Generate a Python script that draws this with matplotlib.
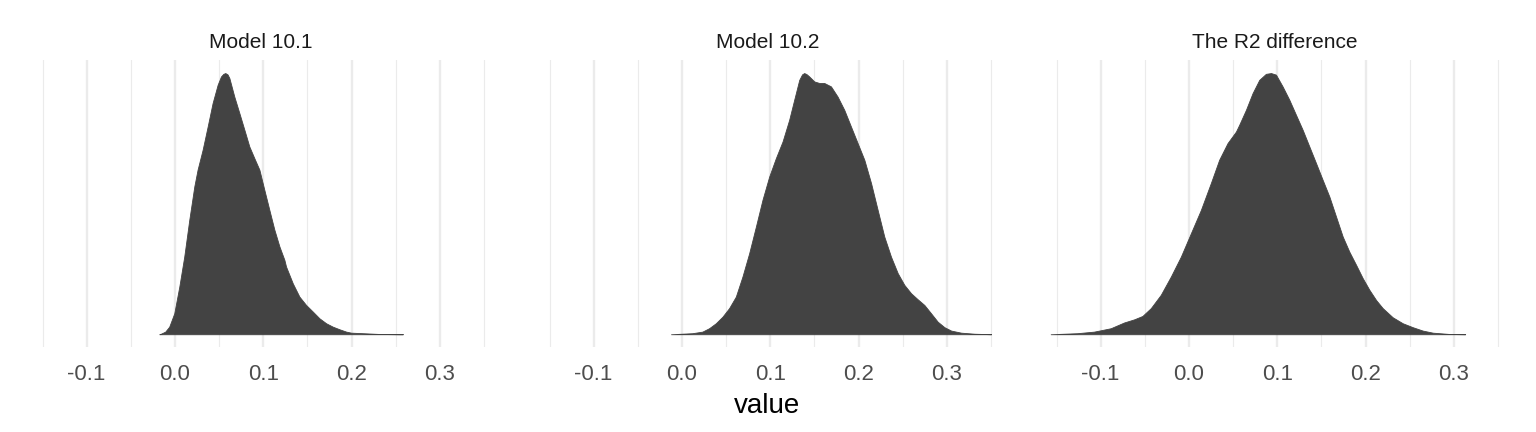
import matplotlib
matplotlib.use("Agg")
import matplotlib.pyplot as plt
import numpy as np

plt.rcParams['font.family'] = ['Liberation Sans', 'DejaVu Sans']
plt.rcParams['axes.unicode_minus'] = False

panel_titles = ["Model 10.1", "Model 10.2", "The R2 difference"]

# Model 10.1 density (scaled so peak = 1)
m1_x = [-0.0177, -0.0159, -0.0110, -0.0065, -0.0008, 0.0049, 0.0105, 0.0162, 0.0219, 0.0256, 0.0313,
        0.0370, 0.0426, 0.0483, 0.0521, 0.0548, 0.0570, 0.0595, 0.0616, 0.0672, 0.0729, 0.0786, 0.0842,
        0.0899, 0.0956, 0.1012, 0.1069, 0.1126, 0.1183, 0.1239, 0.1258, 0.1334, 0.1409,
        0.1485, 0.1560, 0.1636, 0.1712, 0.1787, 0.1863, 0.1939, 0.1995, 0.2127, 0.2316,
        0.2543, 0.2580]
m1_d = [0.0, 0.002, 0.010, 0.029, 0.080, 0.182, 0.297, 0.438, 0.566, 0.630, 0.706,
        0.795, 0.885, 0.955, 0.987, 0.997, 1.000, 0.995, 0.981, 0.910, 0.847, 0.783, 0.719,
        0.674, 0.630, 0.553, 0.476, 0.400, 0.336, 0.285, 0.259, 0.195, 0.144,
        0.112, 0.087, 0.061, 0.042, 0.029, 0.019, 0.010, 0.006, 0.004, 0.001,
        0.0, 0.0]

# Model 10.2 density
m2_x = [-0.0124, 0.0118, 0.0231, 0.0307, 0.0383, 0.0458, 0.0534, 0.0610, 0.0685, 0.0761,
        0.0837, 0.0912, 0.0988, 0.1063, 0.1139, 0.1214, 0.1271, 0.1328, 0.1360, 0.1384, 0.1410, 0.1441,
        0.1498, 0.1555, 0.1611, 0.1687, 0.1762, 0.1838, 0.1914, 0.1989, 0.2065, 0.2141,
        0.2216, 0.2291, 0.2367, 0.2443, 0.2518, 0.2594, 0.2669, 0.2745, 0.2821, 0.2896,
        0.2972, 0.3048, 0.3161, 0.3312, 0.3501]
m2_d = [0.0, 0.004, 0.010, 0.023, 0.042, 0.067, 0.100, 0.144, 0.221, 0.310,
        0.412, 0.515, 0.604, 0.674, 0.738, 0.821, 0.898, 0.974, 0.995, 1.000, 0.996, 0.987,
        0.968, 0.962, 0.962, 0.949, 0.910, 0.859, 0.795, 0.732, 0.668, 0.579,
        0.476, 0.374, 0.297, 0.234, 0.189, 0.157, 0.134, 0.112, 0.080, 0.048,
        0.027, 0.014, 0.006, 0.002, 0.0]

# R2 difference density
d_x = [-0.1566, -0.1264, -0.1075, -0.0886, -0.0735, -0.0621, -0.0527, -0.0432, -0.0319, -0.0205,
       -0.0092, 0.0022, 0.0135, 0.0248, 0.0342, 0.0437, 0.0532, 0.0569, 0.0645, 0.0720,
       0.0796, 0.0871, 0.0929, 0.0985, 0.1060, 0.1136, 0.1212, 0.1287, 0.1363, 0.1439,
       0.1514, 0.1590, 0.1665, 0.1741, 0.1816, 0.1892, 0.1967, 0.2043, 0.2119, 0.2194,
       0.2307, 0.2421, 0.2534, 0.2647, 0.2761, 0.2950, 0.3128]
d_d = [0.0, 0.004, 0.010, 0.023, 0.045, 0.057, 0.070, 0.100, 0.151, 0.221,
       0.297, 0.387, 0.476, 0.579, 0.668, 0.732, 0.776, 0.802, 0.859, 0.923,
       0.974, 0.997, 1.000, 0.994, 0.949, 0.898, 0.840, 0.783, 0.719, 0.655,
       0.591, 0.527, 0.451, 0.374, 0.316, 0.266, 0.215, 0.170, 0.131, 0.100,
       0.065, 0.042, 0.027, 0.014, 0.006, 0.001, 0.0]

series = [(m1_x, m1_d), (m2_x, m2_d), (d_x, d_d)]

major_ticks = [-0.1, 0.0, 0.1, 0.2, 0.3]
minor_ticks = [-0.15, -0.05, 0.05, 0.15, 0.25, 0.35]
tick_labels = ["-0.1", "0.0", "0.1", "0.2", "0.3"]

W, H = 1536, 432
fig = plt.figure(figsize=(W / 100, H / 100), dpi=100)

panel_left = [14.3, 521.3, 1028.3]
panel_w = 492.2
panel_top = 60.0
panel_bottom = 347.3

all_x = m1_x + m2_x + d_x
xmin, xmax = min(all_x), max(all_x)
pad = 0.05 * (xmax - xmin)

grid_col = "#EBEBEB"
fill_col = "#434343"

for i, (xs, ds) in enumerate(series):
    ax = fig.add_axes([panel_left[i] / W, 1 - panel_bottom / H, panel_w / W,
                       (panel_bottom - panel_top) / H])
    ax.set_xlim(xmin - pad, xmax + pad)
    ax.set_ylim(-0.05, 1.05)
    for t in major_ticks:
        ax.axvline(t, color=grid_col, lw=1.7, zorder=0)
    for t in minor_ticks:
        ax.axvline(t, color=grid_col, lw=0.85, zorder=0)
    ax.fill_between(np.array(xs), 0, np.array(ds), color=fill_col, lw=0.6,
                    edgecolor=fill_col, joinstyle="round", zorder=2)
    for s in ax.spines.values():
        s.set_visible(False)
    ax.set_xticks(major_ticks)
    ax.set_xticklabels(tick_labels, fontsize=16, color="#4D4D4D")
    ax.tick_params(axis="x", length=0, pad=12)
    ax.set_yticks([])
    ax.patch.set_alpha(0)
    ax.set_title(panel_titles[i], fontsize=15, color="#1A1A1A", pad=9)

fig.text((panel_left[0] + panel_left[2] + panel_w) / 2 / W, 1 - 406 / H, "value",
         fontsize=20, color="black", ha="center", va="center")

fig.savefig("out.png", dpi=100, facecolor="white")
